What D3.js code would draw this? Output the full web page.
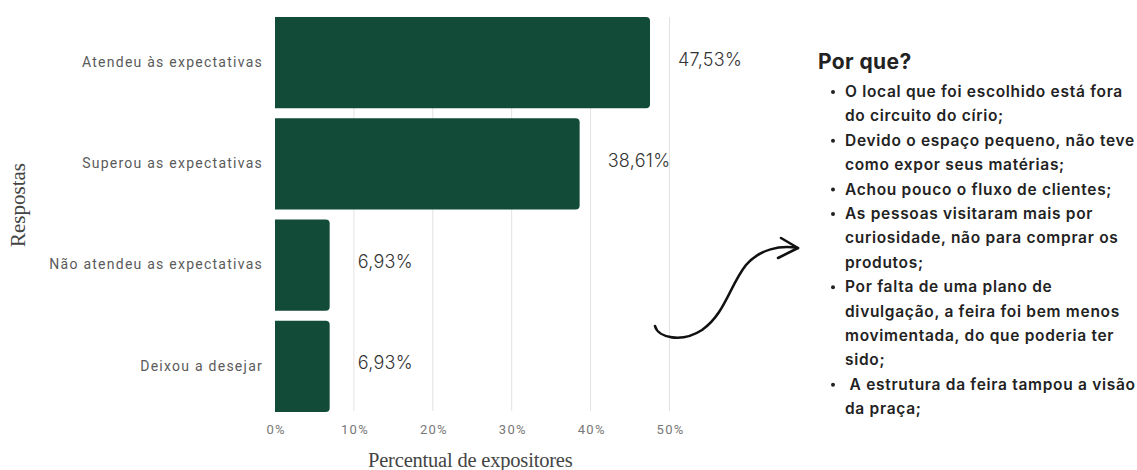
<!DOCTYPE html>
<html><head><meta charset="utf-8">
<script src="https://cdn.jsdelivr.net/npm/d3@7"></script>
<style>body{margin:0;background:#fff}</style>
</head><body>
<script>
const categories = ["Atendeu às expectativas","Superou as expectativas","Não atendeu as expectativas","Deixou a desejar"];
const values = [47.53, 38.61, 6.93, 6.93];
const valueLabels = ["47,53%","38,61%","6,93%","6,93%"];
const tickValues = [0,10,20,30,40,50];
const tickLabels = ["0%","10%","20%","30%","40%","50%"];
const reasonsTitle = "Por que?";
const reasons = [
  ["O local que foi escolhido está fora","do circuito do círio;"],
  ["Devido o espaço pequeno, não teve","como expor seus matérias;"],
  ["Achou pouco o fluxo de clientes;"],
  ["As pessoas visitaram mais por","curiosidade, não para comprar os","produtos;"],
  ["Por falta de uma plano de","divulgação, a feira foi bem menos","movimentada, do que poderia ter","sido;"],
  [" A estrutura da feira tampou a visão","da praça;"]
];

const W=1137,H=470;
const svg=d3.select("body").append("svg").attr("width",W).attr("height",H);
const x=d3.scaleLinear().domain([0,50]).range([275,669.5]);
const y=d3.scaleBand().domain(categories).range([12,417]).paddingInner(0.1).paddingOuter(0.05);

// gridlines
svg.append("g").selectAll("line").data(tickValues.filter(d=>d>0)).join("line")
  .attr("x1",d=>x(d)).attr("x2",d=>x(d)).attr("y1",17).attr("y2",411)
  .attr("stroke","#e2e2e2").attr("stroke-width",1);

// bars with right rounded corners
const r=4;
svg.append("g").selectAll("path").data(values).join("path")
  .attr("d",(d,i)=>{
    const x0=x(0), x1=x(d), y0=y(categories[i]), y1=y0+y.bandwidth();
    return `M${x0},${y0}H${x1-r}Q${x1},${y0} ${x1},${y0+r}V${y1-r}Q${x1},${y1} ${x1-r},${y1}H${x0}Z`;
  })
  .attr("fill","#134b39");

// value labels
svg.append("g").selectAll("text").data(values).join("text")
  .attr("x",d=>x(d)+28).attr("y",(d,i)=>y(categories[i])+y.bandwidth()/2+3)
  .text((d,i)=>valueLabels[i])
  .attr("font-family","Inter, Roboto, sans-serif").attr("font-weight",300)
  .attr("font-size",18).attr("letter-spacing","0.3px").attr("fill","#333");

// y axis (category labels)
const yAxis=d3.axisLeft(y).tickSize(0).tickPadding(0);
const gy=svg.append("g").attr("transform",`translate(${x(0)-12},0)`).call(yAxis);
gy.select(".domain").remove();
gy.selectAll("text").attr("font-family","Roboto, sans-serif").attr("font-size",14)
  .attr("letter-spacing","1.25px").attr("fill","#5a5a5a").attr("dy","0.3em");

// x axis
const xAxis=d3.axisBottom(x).tickValues(tickValues).tickFormat((d,i)=>tickLabels[i]).tickSize(0).tickPadding(0);
const gx=svg.append("g").attr("transform","translate(0,425)").call(xAxis);
gx.select(".domain").remove();
gx.selectAll("text").attr("font-family","Roboto, sans-serif").attr("font-size",13)
  .attr("letter-spacing","1.3px").attr("dx","0.6px").attr("fill","#777");

// axis titles
svg.append("text").attr("x",(x(0)+x(50))/2-2).attr("y",467).attr("text-anchor","middle")
  .attr("font-family","Liberation Serif, serif").attr("font-size",20.5).attr("fill","#444")
  .attr("letter-spacing","-0.2px").text("Percentual de expositores");
svg.append("text").attr("transform","translate(25,205) rotate(-90)").attr("text-anchor","middle")
  .attr("font-family","Liberation Serif, serif").attr("font-size",21).attr("fill","#444")
  .text("Respostas");

// arrow
svg.append("path")
  .attr("d","M655,326 C658,338 682,343 702,330 C725,314 730,285 746,265 C760,249 780,245 798,248")
  .attr("fill","none").attr("stroke","#111").attr("stroke-width",2.6).attr("stroke-linecap","round");
svg.append("path").attr("d","M781,238 L798,248 L778,258")
  .attr("fill","none").attr("stroke","#111").attr("stroke-width",2.6).attr("stroke-linecap","round").attr("stroke-linejoin","round");

// reasons text
svg.append("text").attr("x",818).attr("y",69).text(reasonsTitle)
  .attr("font-family","Inter, Roboto, sans-serif").attr("font-weight",700)
  .attr("font-size",21).attr("letter-spacing","0.4px").attr("fill","#222");
const g=svg.append("g").attr("font-family","Inter, Roboto, sans-serif").attr("font-weight",600)
  .attr("font-size",15.5).attr("letter-spacing","0.7px").attr("fill","#222");
let line=0;
const lh=24.4, base0=97;
reasons.forEach(item=>{
  g.append("circle").attr("cx",833).attr("cy",base0+line*lh-5).attr("r",2).attr("fill","#222");
  item.forEach(t=>{
    g.append("text").attr("x",845).attr("y",base0+line*lh).style("white-space","pre").text(t);
    line++;
  });
});
</script>
</body></html>
